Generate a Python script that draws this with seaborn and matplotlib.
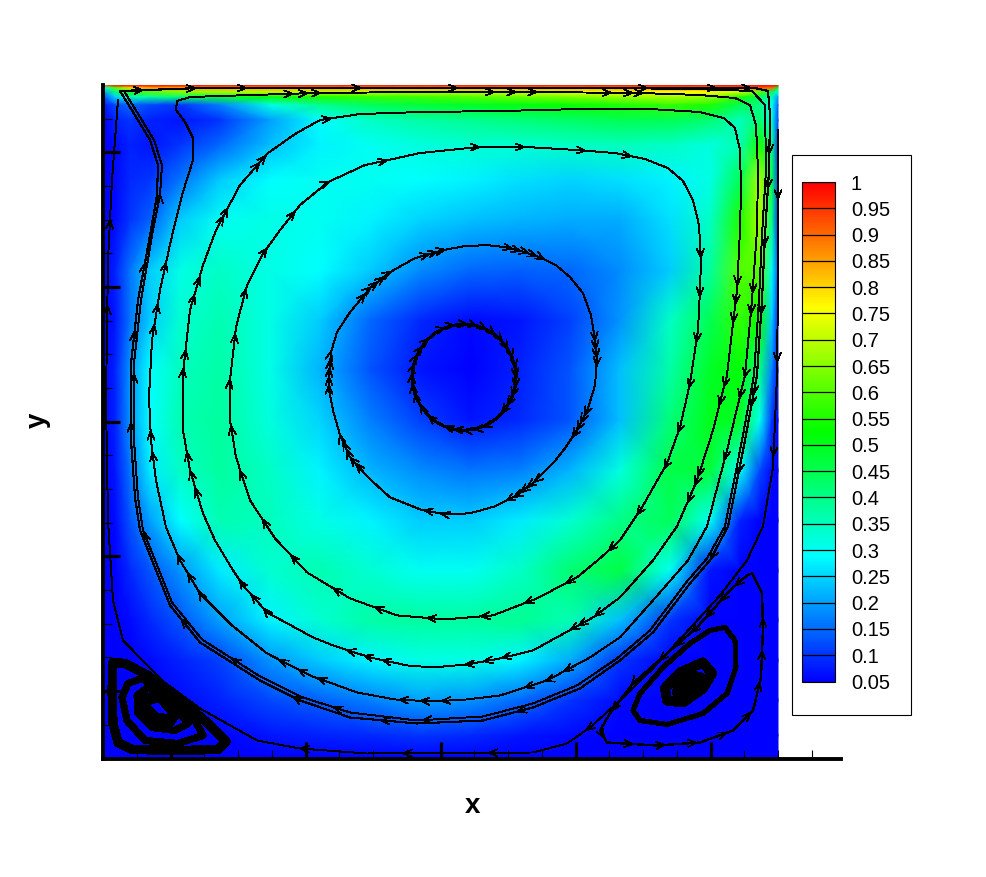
#!/usr/bin/env python3
import matplotlib
matplotlib.use('Agg')
import matplotlib.pyplot as plt
import numpy as np
import pandas as pd
import seaborn as sns
from matplotlib.colors import LinearSegmentedColormap
from matplotlib.patches import Rectangle

sns.set_theme(style='ticks', color_codes=False)
plt.rcParams['font.family'] = ['Liberation Sans', 'DejaVu Sans']
plt.rcParams.update({'text.color': 'black', 'axes.edgecolor': 'black', 'xtick.color': 'black',
                     'ytick.color': 'black', 'axes.axisbelow': False})

# cavity coordinates, side about 675
GRID_X = [0, 12, 27, 47, 77, 117, 167, 217, 267, 317, 367, 417, 467, 517, 567, 607, 637, 657, 669, 675]
GRID_Y = [673, 670, 666, 661, 653, 638, 613, 578, 538, 488, 438, 388, 338, 288, 238, 188, 138, 98, 58, 23, 0]

# velocity magnitude, one row per GRID_Y
SPEED = [
    [.90, 1, 1, 1, 1, 1, 1, 1, 1, 1, 1, 1, 1, 1, 1, 1, 1, 1, 1, 1],
    [.30, .60, .80, .85, .85, .85, .85, .85, .85, .85, .85, .85, .85, .87, .88, .88, .90, .92, .90, .50],
    [.20, .40, .55, .60, .65, .68, .70, .70, .70, .70, .70, .72, .74, .75, .76, .76, .72, .60, .45, .30],
    [.12, .25, .35, .38, .42, .48, .52, .55, .57, .58, .60, .62, .64, .66, .68, .66, .55, .45, .35, .20],
    [.07, .12, .15, .12, .10, .17, .31, .39, .44, .47, .49, .51, .53, .55, .57, .55, .45, .40, .30, .15],
    [.05, .08, .10, .08, .07, .10, .20, .29, .34, .37, .39, .41, .43, .45, .45, .42, .35, .42, .32, .12],
    [.05, .06, .08, .07, .10, .15, .23, .28, .30, .32, .33, .33, .34, .35, .34, .32, .36, .55, .40, .10],
    [.05, .06, .09, .10, .16, .24, .29, .30, .30, .29, .28, .26, .25, .26, .28, .31, .45, .68, .45, .12],
    [.05, .06, .10, .14, .24, .30, .31, .30, .28, .25, .23, .22, .21, .21, .26, .34, .55, .68, .40, .10],
    [.05, .08, .16, .24, .31, .34, .31, .29, .24, .18, .15, .14, .15, .18, .24, .38, .60, .60, .30, .13],
    [.05, .07, .16, .24, .33, .36, .31, .24, .15, .09, .06, .07, .11, .19, .34, .45, .57, .53, .24, .08],
    [.05, .08, .19, .29, .35, .37, .31, .22, .13, .07, .05, .08, .13, .23, .37, .49, .52, .40, .17, .07],
    [.05, .08, .19, .29, .36, .38, .32, .25, .17, .11, .07, .09, .13, .23, .41, .50, .49, .30, .10, .05],
    [.05, .07, .16, .27, .34, .38, .34, .28, .22, .18, .16, .17, .22, .32, .46, .47, .30, .12, .06, .05],
    [.05, .06, .13, .20, .29, .36, .35, .31, .28, .24, .24, .27, .33, .40, .44, .30, .08, .05, .05, .05],
    [.05, .05, .09, .13, .19, .27, .33, .36, .33, .30, .30, .34, .42, .46, .30, .07, .05, .05, .05, .05],
    [.05, .05, .06, .09, .13, .20, .28, .33, .37, .38, .38, .39, .36, .23, .10, .05, .05, .05, .05, .05],
    [.05, .05, .05, .06, .08, .11, .19, .24, .28, .31, .31, .28, .21, .10, .05, .05, .05, .05, .05, .05],
    [.05, .05, .05, .05, .06, .08, .12, .14, .17, .20, .19, .15, .10, .06, .05, .05, .05, .05, .05, .05],
    [.05, .05, .05, .05, .05, .05, .07, .08, .09, .10, .09, .07, .06, .05, .05, .05, .05, .05, .05, .05],
    [.05, .05, .05, .05, .05, .05, .05, .05, .05, .05, .05, .05, .05, .05, .05, .05, .05, .05, .05, .05],
]

LEVELS = [.05, .1, .15, .2, .25, .3, .35, .4, .45, .5, .55, .6, .65, .7, .75, .8, .85, .9, .95, 1]
LEVEL_LABELS = ['0.05', '0.1', '0.15', '0.2', '0.25', '0.3', '0.35', '0.4', '0.45', '0.5',
                '0.55', '0.6', '0.65', '0.7', '0.75', '0.8', '0.85', '0.9', '0.95', '1']

# streamlines
CORE_X = [361, 371, 381, 390, 398, 404, 409, 412, 413, 412, 409, 404, 398, 390, 381, 371, 361,
          351, 341, 332, 324, 318, 313, 310, 309, 310, 313, 318, 324, 332, 341, 351, 361]
CORE_Y = [434, 433, 430, 425, 418, 410, 401, 391, 381, 371, 361, 352, 344, 337, 332, 329, 328,
          329, 332, 337, 344, 352, 361, 371, 381, 391, 401, 410, 418, 425, 430, 433, 434]
CORE_ARROWS = [.01, .04, .07, .1, .13, .16, .19, .22, .25, .28, .31, .34, .37, .44, .47, .5, .53, .56,
               .62, .66, .7, .73, .76, .79, .82, .85, .88, .94, .97]

RING_X = [384, 402, 422, 439, 453, 467, 480, 488, 492, 494, 492, 485, 474, 462, 450, 432, 414, 392, 367, 342,
          317, 287, 266, 247, 237, 230, 226, 226, 228, 234, 247, 267, 287, 312, 340, 362, 384]
RING_Y = [513, 511, 506, 500, 493, 481, 465, 443, 418, 398, 373, 350, 328, 310, 295, 277, 263, 252, 245, 244,
          249, 261, 280, 301, 323, 348, 368, 383, 406, 426, 446, 470, 486, 500, 508, 512, 513]
RING_ARROWS = [.03, .04, .05, .06, .07, .19, .2, .21, .22, .28, .29, .3, .31, .38, .39, .4, .41, .42, .5, .52,
               .62, .63, .64, .65, .66, .72, .73, .74, .75, .76, .84, .85, .86, .87, .88, .93, .94, .95]

MID_X = [375, 424, 474, 512, 542, 565, 580, 590, 596, 598, 597, 595, 587, 577, 564, 539, 517, 497, 474, 434,
         390, 342, 294, 247, 204, 172, 147, 133, 127, 127, 133, 144, 159, 177, 197, 225, 262, 317, 375]
MID_Y = [611, 611, 608, 605, 599, 590, 577, 558, 533, 498, 468, 428, 375, 331, 295, 251, 218, 200, 181, 160,
         143, 139, 143, 160, 186, 220, 258, 301, 338, 378, 431, 473, 503, 528, 553, 576, 593, 605, 611]
MID_ARROWS = [.001, .03, .07, .1, .19, .215, .245, .275, .305, .33, .365, .395, .43, .46, .49, .525, .56, .59,
              .625, .655, .69, .72, .75, .78, .81, .84, .87, .9, .94]

WIDE_X = [217, 257, 317, 397, 477, 547, 597, 621, 632, 637, 638, 637, 634, 628, 624, 610, 594, 574, 550, 517, 490, 430,
          397, 364, 330, 304, 267, 230, 210, 164, 140, 130, 112, 100, 87, 80, 80, 87, 100, 113, 137, 165, 192, 217]
WIDE_Y = [638, 644, 646, 647, 649, 649, 646, 640, 630, 608, 568, 528, 468, 418, 383, 328, 278, 232, 198, 161, 141, 108,
          100, 94, 91, 93, 101, 113, 121, 146, 173, 188, 218, 245, 288, 328, 385, 448, 493, 528, 573, 605, 624, 638]
WIDE_ARROWS = [.006, .31, .32, .33, .365, .375, .415, .42, .43, .51, .52, .525, .565, .575, .585, .63, .64, .65,
               .7, .71, .72, .775, .785, .795, .84, .85, .88, .89, .925, .93, .96, .965]

HOOK_X = [90, 90, 82, 73, 74, 87, 117, 212, 317, 427, 537, 597, 632, 647, 653, 655, 654, 649, 642, 624, 604, 585, 550,
          517, 487, 444, 397, 364, 330, 292, 254, 207, 164, 129, 97, 77, 63, 53, 48, 46, 49, 57, 68, 79, 90]
HOOK_Y = [598, 620, 636, 648, 657, 661, 662, 665, 666, 666, 665, 663, 660, 653, 633, 588, 528, 458, 383, 308, 232, 198, 158,
          121, 101, 78, 63, 59, 57, 59, 66, 83, 105, 133, 165, 198, 231, 278, 318, 361, 418, 468, 518, 563, 598]
HOOK_ARROWS = [.085, .092, .098, .18, .19, .2, .235, .245, .25, .39, .4, .43, .44, .47, .6, .61, .62, .66, .67, .68,
               .72, .73, .74, .79, .8, .81, .86, .87, .92, .93, .95]

WALL_X = [17, 97, 217, 347, 497, 597, 652, 665, 667, 666, 662, 659, 654, 642, 625, 607, 587, 550, 517, 477,
          430, 380, 314, 247, 197, 157, 97, 67, 37, 32, 28, 28, 35, 48, 54, 55, 47, 30, 17]
WALL_Y = [667, 670, 670, 670, 670, 670, 670, 667, 643, 588, 523, 458, 383, 318, 232, 198, 175, 126, 98, 70,
          51, 38, 35, 41, 58, 78, 116, 153, 228, 261, 318, 395, 458, 528, 563, 593, 618, 646, 667]
WALL_ARROWS = [.01, .033, .055, .105, .147, .23, .26, .275, .31, .325, .35, .38, .415, .42, .45, .49,
               .6, .66, .7, .76, .85, .89, .92]

WALL2_X = [21, 97, 217, 347, 497, 597, 649, 662, 663, 659, 656, 651, 639, 622, 604, 584, 547, 514, 474,
           430, 380, 314, 247, 197, 157, 99, 69, 40, 35, 31, 31, 38, 50, 57, 59, 51, 34, 21]
WALL2_Y = [667, 670, 670, 670, 670, 669, 667, 653, 588, 523, 458, 383, 318, 232, 200, 177, 128, 100, 73,
           55, 42, 38, 46, 62, 82, 119, 156, 228, 261, 318, 395, 458, 528, 563, 593, 618, 646, 667]
WALL2_ARROWS = [.64, .68, .73, .8, .87, .95]

# runs from the lid corner down the right wall, along the floor and up the left wall
EDGE_X = [675, 675, 675, 674, 670, 660, 644, 617, 587, 550, 517, 487, 464, 430, 264, 197, 154, 97, 59, 20, 10, 5, 3, 5, 9, 15]
EDGE_Y = [628, 553, 478, 383, 291, 232, 198, 163, 130, 90, 58, 31, 15, 6, 5, 10, 18, 50, 78, 118, 158, 238, 358, 498, 578, 658]
EDGE_ARROWS = [.04, .135, .19, .39, .45, .5, .56, .88, .93]

# right corner eddy
RIGHT1_X = [644, 627, 594, 564, 530, 507, 497, 504, 554, 597, 630, 650, 658, 660, 659, 649, 644]
RIGHT1_Y = [183, 168, 131, 105, 75, 45, 28, 16, 13, 16, 28, 48, 81, 131, 165, 185, 183]
RIGHT1_ARROWS = [.03, .07, .11, .15, .19, .23, .3, .36, .42, .48, .54, .6, .66, .72, .78, .84, .9]
RIGHT2_X = [622, 607, 587, 560, 537, 530, 537, 564, 600, 624, 633, 632, 622]
RIGHT2_Y = [131, 128, 115, 91, 65, 48, 38, 34, 45, 65, 91, 118, 131]
RIGHT3_X = [600, 577, 562, 564, 580, 600, 609, 600]
RIGHT3_Y = [96, 86, 70, 58, 56, 70, 85, 96]
RIGHT4_X = [587, 577, 575, 590, 597, 587]
RIGHT4_Y = [83, 73, 66, 68, 80, 83]

# left corner eddy
LEFT1_X = [10, 22, 45, 75, 104, 123, 115, 75, 29, 15, 10, 9, 10]
LEFT1_Y = [96, 95, 83, 60, 36, 17, 9, 8, 9, 16, 35, 68, 96]
LEFT2_X = [25, 39, 69, 92, 100, 75, 42, 24, 19, 25]
LEFT2_Y = [75, 80, 61, 38, 23, 15, 18, 38, 61, 75]
LEFT3_X = [34, 45, 69, 85, 72, 49, 35, 34]
LEFT3_Y = [63, 71, 55, 35, 28, 31, 45, 63]
LEFT4_X = [42, 57, 72, 67, 52, 42, 42]
LEFT4_Y = [58, 63, 46, 38, 40, 50, 58]

W, H = 987, 877
L_X, L_Y = 675, 673


def px_axes(fig, left, top, right, bottom, **kws):
    return fig.add_axes([left / W, 1 - bottom / H, (right - left) / W, (bottom - top) / H], **kws)


def add_arrows(ax, xs, ys, fractions):
    pts = np.column_stack([xs, ys]).astype(float)
    seg = np.hypot(*np.diff(pts, axis=0).T)
    dist = np.r_[0, np.cumsum(seg)]
    for f in fractions:
        d = f * dist[-1]
        i = min(np.searchsorted(dist, d, side='right') - 1, len(seg) - 1)
        u = (pts[i + 1] - pts[i]) / max(seg[i], 1e-6)
        p = pts[i] + u * (d - dist[i])
        ax.annotate('', xy=p + u, xytext=p - u, annotation_clip=False, arrowprops=dict(
            arrowstyle='->,head_length=0.62,head_width=0.25', color='black', lw=0.55,
            shrinkA=0, shrinkB=0, mutation_scale=10, antialiased=False))


def draw_stream(ax, xs, ys, lw=0.7, arrows=()):
    df = pd.DataFrame({'x': xs, 'y': ys})
    sns.lineplot(data=df, x='x', y='y', sort=False, estimator=None, color='black',
                 lw=lw, ax=ax, legend=False, clip_on=False, antialiased=False)
    add_arrows(ax, xs, ys, arrows)


fig = plt.figure(figsize=(W / 100, H / 100), dpi=100, facecolor='white')
ax = px_axes(fig, 103, 85, 841, 758.5)
ax.set_facecolor('white')
ax.set_axisbelow(False)

cmap = LinearSegmentedColormap.from_list('rainbow5', ['#0000ff', '#00ffff', '#00ff00', '#ffff00', '#ff0000'])
mesh = ax.pcolormesh(GRID_X, GRID_Y, np.array(SPEED), cmap=cmap, vmin=.05, vmax=1,
                     shading='gouraud', zorder=1, rasterized=True)

draw_stream(ax, CORE_X, CORE_Y, 1.5, CORE_ARROWS)
draw_stream(ax, RING_X, RING_Y, 0.7, RING_ARROWS)
draw_stream(ax, MID_X, MID_Y, 0.7, MID_ARROWS)
draw_stream(ax, WIDE_X, WIDE_Y, 0.7, WIDE_ARROWS)
draw_stream(ax, HOOK_X, HOOK_Y, 0.7, HOOK_ARROWS)
draw_stream(ax, WALL_X, WALL_Y, 0.8, WALL_ARROWS)
draw_stream(ax, WALL2_X, WALL2_Y, 0.7, WALL2_ARROWS)
draw_stream(ax, EDGE_X, EDGE_Y, 0.7, EDGE_ARROWS)
draw_stream(ax, RIGHT1_X, RIGHT1_Y, 1.0, RIGHT1_ARROWS)
draw_stream(ax, RIGHT2_X, RIGHT2_Y, 3.0)
draw_stream(ax, RIGHT3_X, RIGHT3_Y, 6.5)
draw_stream(ax, RIGHT4_X, RIGHT4_Y, 8.0)
draw_stream(ax, LEFT1_X, LEFT1_Y, 6.0)
draw_stream(ax, LEFT2_X, LEFT2_Y, 4.5)
draw_stream(ax, LEFT3_X, LEFT3_Y, 4.5)
draw_stream(ax, LEFT4_X, LEFT4_Y, 8.0)

ax.set_xlim(0, 738)
ax.set_ylim(0, L_Y)
ax.set_xticks(np.arange(.1, 1, .2) * L_X)
ax.set_yticks(np.arange(.1, 1, .2) * L_Y)
ax.set_xticks(np.arange(.05, 1.09, .05) * L_X, minor=True)
ax.set_yticks(np.arange(.05, 1.0, .05) * L_Y, minor=True)
ax.tick_params(which='major', direction='in', length=12, width=2.3, labelleft=False, labelbottom=False)
ax.tick_params(which='minor', direction='in', length=6.5, width=0.8)
ax.set_xlabel('')
ax.set_ylabel('')
for side in ['top', 'right']:
    ax.spines[side].set_visible(False)
for side in ['left', 'bottom']:
    ax.spines[side].set_linewidth(2.8)
    ax.spines[side].set_zorder(6)

fig.text(473 / W, 1 - 806 / H, 'x', fontsize=20, fontweight='bold', ha='center', va='center')
fig.text(38 / W, 1 - 420 / H, 'y', fontsize=20, fontweight='bold', rotation=90, ha='center', va='center')

# legend box and colour bar
fig.add_artist(Rectangle((792.5 / W, 1 - 714.5 / H), 119 / W, 560 / H, transform=fig.transFigure,
                         facecolor='white', edgecolor='black', lw=0.8, zorder=2))
cax = px_axes(fig, 802, 182, 835, 681.5)
cax.set_zorder(3)
cbar = fig.colorbar(mesh, cax=cax)
cbar.set_ticks(LEVELS, labels=LEVEL_LABELS)
cax.minorticks_off()
cax.tick_params(length=0, pad=11.5, labelsize=14.5, colors='black')
cax.hlines(LEVELS, 0, 1, transform=cax.get_yaxis_transform(), color='black', lw=0.9)
cbar.outline.set_linewidth(0.8)
cbar.outline.set_edgecolor('black')

fig.savefig('out.png', dpi=100)
